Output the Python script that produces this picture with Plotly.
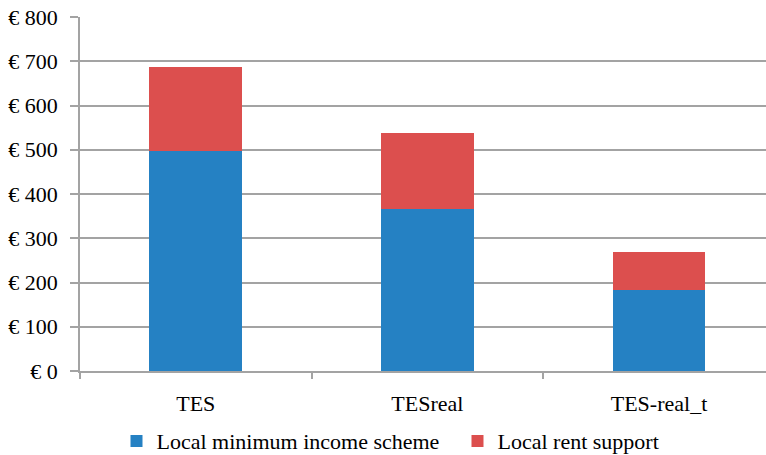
import plotly.graph_objects as go

categories = ["TES", "TESreal", "TES-real_t"]
min_income = [497, 365, 183]
rent_support = [190, 173, 86]
y_ticks = [0, 100, 200, 300, 400, 500, 600, 700, 800]

BLUE = "#2581c3"
RED = "#dc4f4e"
GRID = "#a3a3a3"
FONT = "Liberation Serif, Times New Roman, serif"
EURO = "\u20ac "

fig = go.Figure()
fig.add_bar(x=categories, y=min_income, name="Local minimum income scheme",
            marker=dict(color=BLUE, line=dict(width=0)), width=0.4)
fig.add_bar(x=categories, y=rent_support, name="Local rent support",
            marker=dict(color=RED, line=dict(width=0)), width=0.4)

fig.update_layout(
    barmode="stack",
    width=766, height=455,
    margin=dict(l=80, r=0, t=17, b=84, autoexpand=False),
    plot_bgcolor="white", paper_bgcolor="white",
    font=dict(family=FONT, size=22, color="black"),
    showlegend=True,
    legend=dict(orientation="h", x=0.0532, xanchor="left", y=-0.198, yanchor="middle",
                font=dict(family=FONT, size=22, color="black"),
                itemwidth=30, entrywidth=296, entrywidthmode="pixels",
                traceorder="normal", bgcolor="rgba(0,0,0,0)"),
    xaxis=dict(range=[-0.5, 2.462], showline=True, linecolor=GRID, linewidth=1.5,
               ticks="outside", tickson="boundaries", ticklen=6, tickcolor=GRID,
               tickwidth=1.5, showgrid=False, ticklabelstandoff=12,
               tickfont=dict(family=FONT, size=22, color="black")),
    yaxis=dict(range=[0, 800], tickmode="array", tickvals=y_ticks,
               ticktext=[EURO + str(v) for v in y_ticks],
               showline=True, linecolor=GRID, linewidth=1.5,
               ticks="outside", ticklen=8, tickcolor=GRID, tickwidth=1.5,
               showgrid=True, gridcolor=GRID, gridwidth=1.5, zeroline=False,
               ticklabelstandoff=8,
               tickfont=dict(family=FONT, size=22, color="black")),
)

fig.write_html("out.html")
